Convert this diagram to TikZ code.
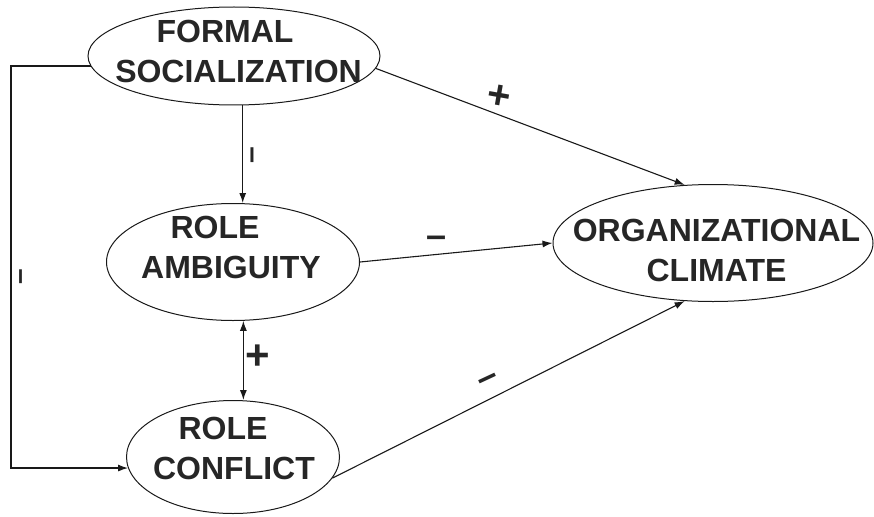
\documentclass[tikz,border=0pt]{standalone}
\usepackage{fontspec}
\setmainfont{Liberation Sans}
\usetikzlibrary{shapes.geometric,arrows.meta}
\begin{document}
\begin{tikzpicture}[x=1pt,y=-1pt,
  ink/.style={draw=black!90},
  concept/.style={ink, ellipse, line width=1pt, inner sep=0pt},
  caption/.style={font=\fontsize{32}{40}\selectfont\bfseries, align=center, inner sep=0pt, text=black!85},
  link/.style={ink, line width=1.1pt, -{Latex[length=10pt,width=7pt]}},
  twoway/.style={ink, line width=1.1pt, {Latex[length=10pt,width=7pt]}-{Latex[length=10pt,width=7pt]}},
  sign/.style={font=\bfseries, inner sep=0pt, text=black!85}]
\useasboundingbox (0,0) rectangle (874,516);

% constructs
\node[concept, minimum width=292pt, minimum height=98pt]  (fs) at (234,56)  {};
\node[concept, minimum width=253pt, minimum height=117pt] (ra) at (233,262) {};
\node[concept, minimum width=213pt, minimum height=113pt] (rc) at (233,457) {};
\node[concept, minimum width=320pt, minimum height=117pt] (oc) at (713,243) {};

\node[caption] (fst) at (238.5,51)  {FORMAL\hspace*{27pt}\\SOCIALIZATION};
\node[caption] (rat) at (231,247.5) {ROLE\hspace*{32pt}\\AMBIGUITY};
\node[caption] (rct) at (234,448.5) {ROLE\hspace*{22pt}\\CONFLICT};
\node[caption] (oct) at (716.5,250) {ORGANIZATIONAL\\CLIMATE};

% paths
\coordinate (lc) at (11,0);
\draw[link] (fs.-80) -- (fs.-80 |- ra.north);
\draw[link] (fs.-5) -- (oc.116);
\draw[link] (ra.east) -- (oc.west);
\draw[link] (rc.-12) -- (oc.-116);
\draw[twoway] (ra.-80) -- (ra.-80 |- rc.north);
\draw[link] (fs.184) -- (fs.184 -| lc) |- (rc.186);

% signs
\node[sign, font=\bfseries\fontsize{40}{40}\selectfont, rotate=-10] (s1) at (499,97)  {+};
\node[sign, font=\bfseries\fontsize{42}{42}\selectfont] (s2) at (258,357) {+};
\node[sign, font=\bfseries\fontsize{36}{36}\selectfont] (s3) at (437,242) {–};
\node[sign, font=\bfseries\fontsize{36}{36}\selectfont, rotate=25] (s4) at (489,382) {–};
\node[sign, font=\bfseries\fontsize{30}{30}\selectfont, rotate=90] (s5) at (256,155) {–};
\node[sign, font=\bfseries\fontsize{28}{28}\selectfont, rotate=90] (s6) at (24,277)  {–};
\end{tikzpicture}
\end{document}
